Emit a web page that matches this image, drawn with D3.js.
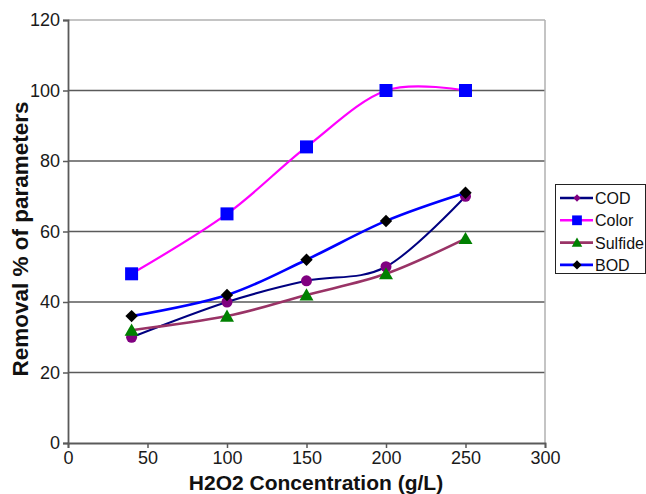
<!DOCTYPE html>
<html>
<head>
<meta charset="utf-8">
<script src="https://cdn.jsdelivr.net/npm/d3@7"></script>
<style>
  html, body { margin: 0; padding: 0; background: #fff; }
  svg { display: block; font-family: "Liberation Sans", Arial, sans-serif; }
</style>
</head>
<body>
<svg id="chart" width="646" height="494"></svg>
<script>
// H2O2 concentration (g/L) and removal percentages per parameter
const concentrations = [40, 100, 150, 200, 250];
const codValues     = [30, 40, 46, 50, 70];
const colorValues   = [48, 65, 84, 100, 100];
const sulfideValues = [32, 36, 42, 48, 58];
const bodValues     = [36, 42, 52, 63, 71];

const seriesNames = ["COD", "Color", "Sulfide", "BOD"];
const xTicks = [0, 50, 100, 150, 200, 250, 300];
const yTicks = [0, 20, 40, 60, 80, 100, 120];

const series = [
  { name: "COD",     values: codValues,     line: "#000080", lw: 2,   marker: "circle",   fill: "#800080", size: 11 },
  { name: "Color",   values: colorValues,   line: "#ff00ff", lw: 2.2, marker: "square",   fill: "#0000ff", size: 13 },
  { name: "Sulfide", values: sulfideValues, line: "#993366", lw: 2.6, marker: "triangle", fill: "#008000", size: 14 },
  { name: "BOD",     values: bodValues,     line: "#0000ff", lw: 2.6, marker: "diamond",  fill: "#000000", size: 14 }
];

const svg = d3.select("#chart");
const plot = { left: 68, right: 545, top: 20, bottom: 443 };

const x = d3.scaleLinear().domain([0, 300]).range([plot.left, plot.right]);
const y = d3.scaleLinear().domain([0, 120]).range([plot.bottom, plot.top]);

// horizontal gridlines
svg.append("g").selectAll("line")
  .data(yTicks.filter(t => t > 0))
  .join("line")
  .attr("x1", plot.left).attr("x2", plot.right)
  .attr("y1", d => y(d)).attr("y2", d => y(d))
  .attr("stroke", d => d === 120 ? "#b0b0b0" : "#5a5a5a")
  .attr("stroke-width", d => d === 120 ? 1.5 : 1.6);

// right border of the plot area
svg.append("line")
  .attr("x1", plot.right).attr("x2", plot.right)
  .attr("y1", plot.top).attr("y2", plot.bottom)
  .attr("stroke", "#b0b0b0").attr("stroke-width", 1.5);

// axes
const yAxis = svg.append("g")
  .attr("transform", `translate(${plot.left},0)`)
  .call(d3.axisLeft(y).tickValues(yTicks).tickSize(5).tickPadding(3));
const xAxis = svg.append("g")
  .attr("transform", `translate(0,${plot.bottom})`)
  .call(d3.axisBottom(x).tickValues(xTicks).tickSize(5).tickPadding(3));

[xAxis, yAxis].forEach(g => {
  g.select(".domain").attr("stroke", "#5a5a5a").attr("stroke-width", 1.8);
  g.selectAll(".tick line").attr("stroke", "#5a5a5a").attr("stroke-width", 1.5);
  g.selectAll(".tick text")
    .attr("fill", "#1a1a1a")
    .style("font-size", "18px")
    .style("font-family", "'Liberation Sans', Arial, sans-serif");
});

// axis titles
svg.append("text")
  .attr("x", 316).attr("y", 490)
  .attr("text-anchor", "middle")
  .style("font-size", "21px").style("font-weight", "bold")
  .attr("fill", "#111")
  .text("H2O2 Concentration (g/L)");

svg.append("text")
  .attr("transform", "translate(28,239) rotate(-90)")
  .attr("text-anchor", "middle")
  .style("font-size", "22.5px").style("font-weight", "bold")
  .attr("fill", "#111")
  .text("Removal % of parameters");

// marker shapes
const symbolFor = {
  circle: d3.symbolCircle,
  square: d3.symbolSquare,
  triangle: d3.symbolTriangle,
  diamond: d3.symbolDiamond2
};
function markerPath(kind, size) {
  let area;
  if (kind === "circle") area = Math.PI * (size / 2) ** 2;
  else if (kind === "square") area = size * size;
  else if (kind === "triangle") area = (Math.sqrt(3) / 4) * size * size;
  else area = size * size / 2;
  return d3.symbol().type(symbolFor[kind]).size(area)();
}

const line = d3.line()
  .x(d => x(d[0]))
  .y(d => y(d[1]))
  .curve(d3.curveCardinal.tension(0));

// series lines and markers
series.forEach(s => {
  const pts = concentrations.map((c, i) => [c, s.values[i]]);
  const g = svg.append("g");
  g.append("path")
    .datum(pts)
    .attr("d", line)
    .attr("fill", "none")
    .attr("stroke", s.line)
    .attr("stroke-width", s.lw);
  g.selectAll("path.mk")
    .data(pts)
    .join("path")
    .attr("class", "mk")
    .attr("d", markerPath(s.marker, s.size))
    .attr("transform", d => `translate(${x(d[0])},${y(d[1]) + (s.marker === "triangle" ? 1.5 : 0)})`)
    .attr("fill", s.fill);
});

// legend
const legend = svg.append("g");
legend.append("rect")
  .attr("x", 555.5).attr("y", 184.5)
  .attr("width", 90).attr("height", 89)
  .attr("fill", "#fff").attr("stroke", "#222").attr("stroke-width", 1);

series.forEach((s, i) => {
  const yy = 198 + i * 22.3;
  legend.append("line")
    .attr("x1", 560).attr("x2", 593)
    .attr("y1", yy).attr("y2", yy)
    .attr("stroke", s.line).attr("stroke-width", 2.6);
  const legendMarker = s.marker === "circle" ? "diamond" : s.marker;
  legend.append("path")
    .attr("d", markerPath(legendMarker, s.size * 0.75))
    .attr("transform", `translate(577,${yy + (legendMarker === "triangle" ? 1 : 0)})`)
    .attr("fill", s.fill);
  legend.append("text")
    .attr("x", 595).attr("y", yy + 6)
    .style("font-size", "16px")
    .attr("fill", "#111")
    .text(seriesNames[i]);
});
</script>
</body>
</html>
